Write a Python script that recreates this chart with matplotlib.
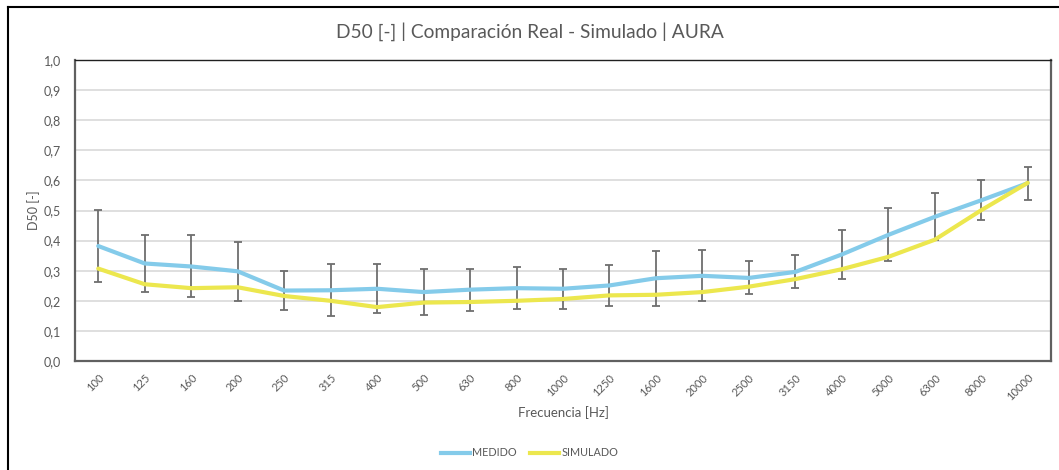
import matplotlib
matplotlib.use("Agg")
import matplotlib.pyplot as plt
from matplotlib.lines import Line2D
from matplotlib.ticker import FuncFormatter

# Third-octave bands
frecuencias = ["100", "125", "160", "200", "250", "315", "400", "500", "630", "800",
               "1000", "1250", "1600", "2000", "2500", "3150", "4000", "5000",
               "6300", "8000", "10000"]

# Measured D50 and its uncertainty
medido = [0.382, 0.324, 0.314, 0.298, 0.234, 0.235, 0.240, 0.229, 0.237, 0.242,
          0.240, 0.251, 0.275, 0.283, 0.276, 0.296, 0.354, 0.419, 0.479, 0.534, 0.591]
error_medido = [0.120, 0.095, 0.103, 0.098, 0.066, 0.087, 0.082, 0.075, 0.070, 0.069,
                0.066, 0.067, 0.092, 0.085, 0.055, 0.055, 0.082, 0.088, 0.078, 0.067, 0.055]

# Simulated D50
simulado = [0.307, 0.255, 0.242, 0.245, 0.216, 0.200, 0.179, 0.194, 0.196, 0.200,
            0.206, 0.218, 0.220, 0.229, 0.247, 0.272, 0.305, 0.346, 0.403, 0.501, 0.592]

COLOR_MED = "#84CBEA"
COLOR_SIM = "#ECE74E"
TXT = "#595959"
FONT = "Lato"

fig = plt.figure(figsize=(10.59, 4.70), dpi=100)
ax = fig.add_axes([75 / 1059, 1 - 361 / 470, (1051 - 75) / 1059, (361 - 60) / 470])

x = list(range(len(frecuencias)))
ax.errorbar(x, medido, yerr=error_medido, fmt="none", ecolor="#6E6E6E",
            elinewidth=1.3, capsize=3, capthick=1.3, zorder=2)
ax.plot(x, medido, color=COLOR_MED, lw=3, solid_capstyle="round", zorder=3)
ax.plot(x, simulado, color=COLOR_SIM, lw=3, solid_capstyle="round", zorder=3)

ax.set_xlim(-0.5, len(frecuencias) - 0.5)
ax.set_ylim(0, 1.0)
ax.set_yticks([i / 10 for i in range(11)])
ax.yaxis.set_major_formatter(FuncFormatter(lambda v, p: f"{v:.1f}".replace(".", ",")))
ax.grid(axis="y", color="#D9D9D9", lw=1.2)
ax.set_axisbelow(True)

ax.set_xticks(x)
ax.set_xticklabels(frecuencias, rotation=45, ha="right", va="top",
                   rotation_mode="anchor", fontsize=8, color=TXT, family=FONT)
for lbl in ax.get_yticklabels():
    lbl.set_fontsize(9)
    lbl.set_color(TXT)
    lbl.set_family(FONT)
ax.tick_params(axis="both", length=0)
ax.tick_params(axis="x", pad=8)
ax.tick_params(axis="y", pad=10)

for side in ["left", "bottom", "right"]:
    ax.spines[side].set_color("#606060")
    ax.spines[side].set_linewidth(1.6)
ax.spines["top"].set_color("#202020")
ax.spines["top"].set_linewidth(1.0)

ax.set_ylabel("D50 [-]", fontsize=9, color=TXT, family=FONT, labelpad=3)
ax.set_xlabel("Frecuencia [Hz]", fontsize=9.5, color=TXT, family=FONT, labelpad=2)

fig.text(0.5, 1 - 32 / 470, "D50 [-] | Comparación Real - Simulado | AURA",
         ha="center", va="center", fontsize=13.8, color=TXT, family=FONT)

handles = [Line2D([], [], color=COLOR_MED, lw=3), Line2D([], [], color=COLOR_SIM, lw=3)]
fig.legend(handles, ["MEDIDO", "SIMULADO"], loc="center", bbox_to_anchor=(0.5, 1 - 453 / 470),
           ncol=2, frameon=False, prop={"family": FONT, "size": 7.8}, labelcolor=TXT,
           handlelength=2.7, handletextpad=0.2, columnspacing=1.2)

# outer frame (top and left edges)
fig.add_artist(Line2D([8 / 1059, 1.0], [1 - 7 / 470, 1 - 7 / 470], color="black", lw=1.5))
fig.add_artist(Line2D([8 / 1059, 8 / 1059], [0.0, 1 - 7 / 470], color="black", lw=1.5))

fig.savefig("out.png", dpi=100)
